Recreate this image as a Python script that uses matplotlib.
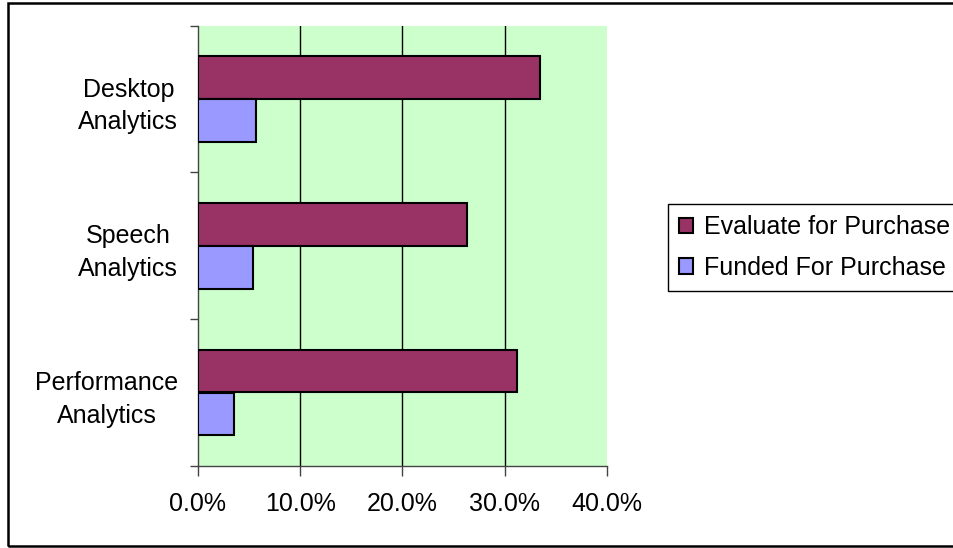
import numpy as np
import matplotlib
matplotlib.use("Agg")
import matplotlib.pyplot as plt
from matplotlib.patches import Patch, Rectangle
from matplotlib.ticker import FuncFormatter

plt.rcParams['font.family'] = ['Liberation Sans', 'DejaVu Sans']

categories = ['Performance\nAnalytics', 'Speech\nAnalytics', 'Desktop\nAnalytics']
evaluate = [31.2, 26.3, 33.4]
funded = [3.5, 5.4, 5.7]
series_names = ['Evaluate for Purchase', 'Funded For Purchase']

fs = 18

fig = plt.figure(figsize=(9.54, 5.48), dpi=100)
ax = fig.add_axes([0.2072, 0.1496, 0.4294, 0.8035])
ax.set_facecolor('#CCFFCC')

y = np.arange(len(categories))
h = 0.29
ax.barh(y + 0.146, evaluate, height=h, color='#993366', edgecolor='black', linewidth=1.5, zorder=3)
ax.barh(y - 0.146, funded, height=h, color='#9999FF', edgecolor='black', linewidth=1.5, zorder=3)

ax.set_xlim(0, 40)
ax.set_ylim(-0.5, 2.5)
ax.set_xticks([0, 10, 20, 30, 40])
ax.xaxis.set_major_formatter(FuncFormatter(lambda v, p: '%.1f%%' % v))
# gridlines only inside the plot area (none at the right edge)
for gx in [10, 20, 30]:
    ax.axvline(gx, color='black', linewidth=1, zorder=1)

ax.set_yticks(y)
ax.set_yticklabels(categories, multialignment='center', linespacing=1.45)
ax.set_yticks([-0.5, 0.5, 1.5, 2.5], minor=True)
ax.tick_params(axis='y', which='major', length=0, pad=14, labelsize=fs)
ax.tick_params(axis='y', which='minor', length=6, width=1, color='#444444')
ax.tick_params(axis='x', length=7, width=1, color='#444444', pad=12, labelsize=fs)

for s in ['top', 'right']:
    ax.spines[s].set_visible(False)
for s in ['left', 'bottom']:
    ax.spines[s].set_color('#444444')
    ax.spines[s].set_linewidth(1)

handles = [Patch(facecolor='#993366', edgecolor='black', linewidth=1.5),
           Patch(facecolor='#9999FF', edgecolor='black', linewidth=1.5)]
leg = fig.legend(handles, series_names, loc='upper left',
                 bbox_to_anchor=(668 / 954, 1 - 204 / 548), fontsize=fs,
                 fancybox=False, framealpha=1, edgecolor='black',
                 handlelength=0.56, handleheight=0.56, handletextpad=0.45,
                 labelspacing=0.66, borderpad=0.45, borderaxespad=0)
leg.get_frame().set_linewidth(1)

fig.patches.append(Rectangle((8 / 954, 2.5 / 548), 1.0, 543 / 548, transform=fig.transFigure,
                             fill=False, edgecolor='black', linewidth=1.8))

fig.savefig('out.png', dpi=100)
